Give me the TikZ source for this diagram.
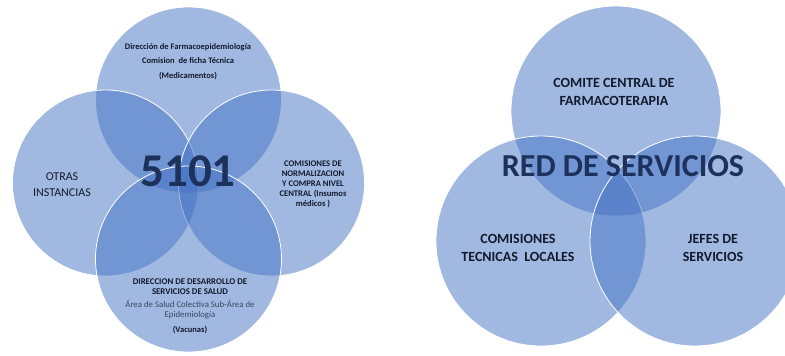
\documentclass[tikz,border=0pt]{standalone}
\usepackage{fontspec}
\setmainfont{Carlito}
\definecolor{cfill}{RGB}{68,114,196}
\definecolor{navy}{RGB}{28,50,92}
\definecolor{txt}{RGB}{18,26,44}
\definecolor{txtg}{RGB}{60,70,95}
\tikzset{
  vennA/.style={circle, draw=white, line width=0.8pt, fill=cfill, fill opacity=0.5, inner sep=0pt, minimum size=186pt},
  vennB/.style={circle, draw=white, line width=0.8pt, fill=cfill, fill opacity=0.5, inner sep=0pt, minimum size=210pt},
  lbl/.style={align=center, text=txt, inner sep=0pt},
  big/.style={text=navy, inner sep=0pt}
}
\begin{document}
\begin{tikzpicture}[x=1pt,y=-1pt]
\useasboundingbox (0,0) rectangle (785,356);
% left diagram
\node[vennA] (ltop) at (188.5,100) {};
\node[vennA] (lleft) at (105.5,183) {};
\node[vennA] (lright) at (271.5,183) {};
\node[vennA] (lbot) at (188.5,259) {};
% right diagram
\node[vennB] (rtop) at (616,111) {};
\node[vennB] (rleft) at (541,241) {};
\node[vennB] (rright) at (695,241) {};
% left texts
\node[lbl, font=\fontsize{8.5}{14.5}\selectfont\bfseries] (t1) at (188,61.5)
  {Dirección de Farmacoepidemiología\\Comision\ \ de ficha Técnica\\(Medicamentos)};
\node[lbl, font=\fontsize{12}{16}\selectfont] (t2) at (62,185) {OTRAS\\INSTANCIAS};
\node[lbl, font=\fontsize{8.6}{10}\selectfont\bfseries] (t3) at (313,184)
  {COMISIONES DE\\NORMALIZACION\\Y COMPRA NIVEL\\CENTRAL (Insumos\\médicos )};
\node[lbl, font=\fontsize{8.8}{10}\selectfont\bfseries] (t4) at (190,287)
  {DIRECCION DE DESARROLLO DE\\SERVICIOS DE SALUD};
\node[lbl, text=txtg, font=\fontsize{8.8}{10}\selectfont] (t5) at (190,310)
  {Área de Salud Colectiva Sub-Área de\\Epidemiología};
\node[lbl, font=\fontsize{8.5}{10}\selectfont\bfseries] (t6) at (190,330) {(Vacunas)};
\node[big, font=\fontsize{47}{47}\selectfont\bfseries] (n5101) at (188,171) {5101};
% right texts
\node[lbl, font=\fontsize{14}{18}\selectfont\bfseries] (t7) at (614,92) {COMITE CENTRAL DE\\FARMACOTERAPIA};
\node[big, font=\fontsize{32}{32}\selectfont\bfseries] (red) at (623,166) {RED DE SERVICIOS};
\node[lbl, font=\fontsize{14}{18}\selectfont\bfseries] (t8) at (518,248) {COMISIONES\\TECNICAS\ \ LOCALES};
\node[lbl, font=\fontsize{14}{18}\selectfont\bfseries] (t9) at (713,248) {JEFES DE\\SERVICIOS};
\end{tikzpicture}
\end{document}
